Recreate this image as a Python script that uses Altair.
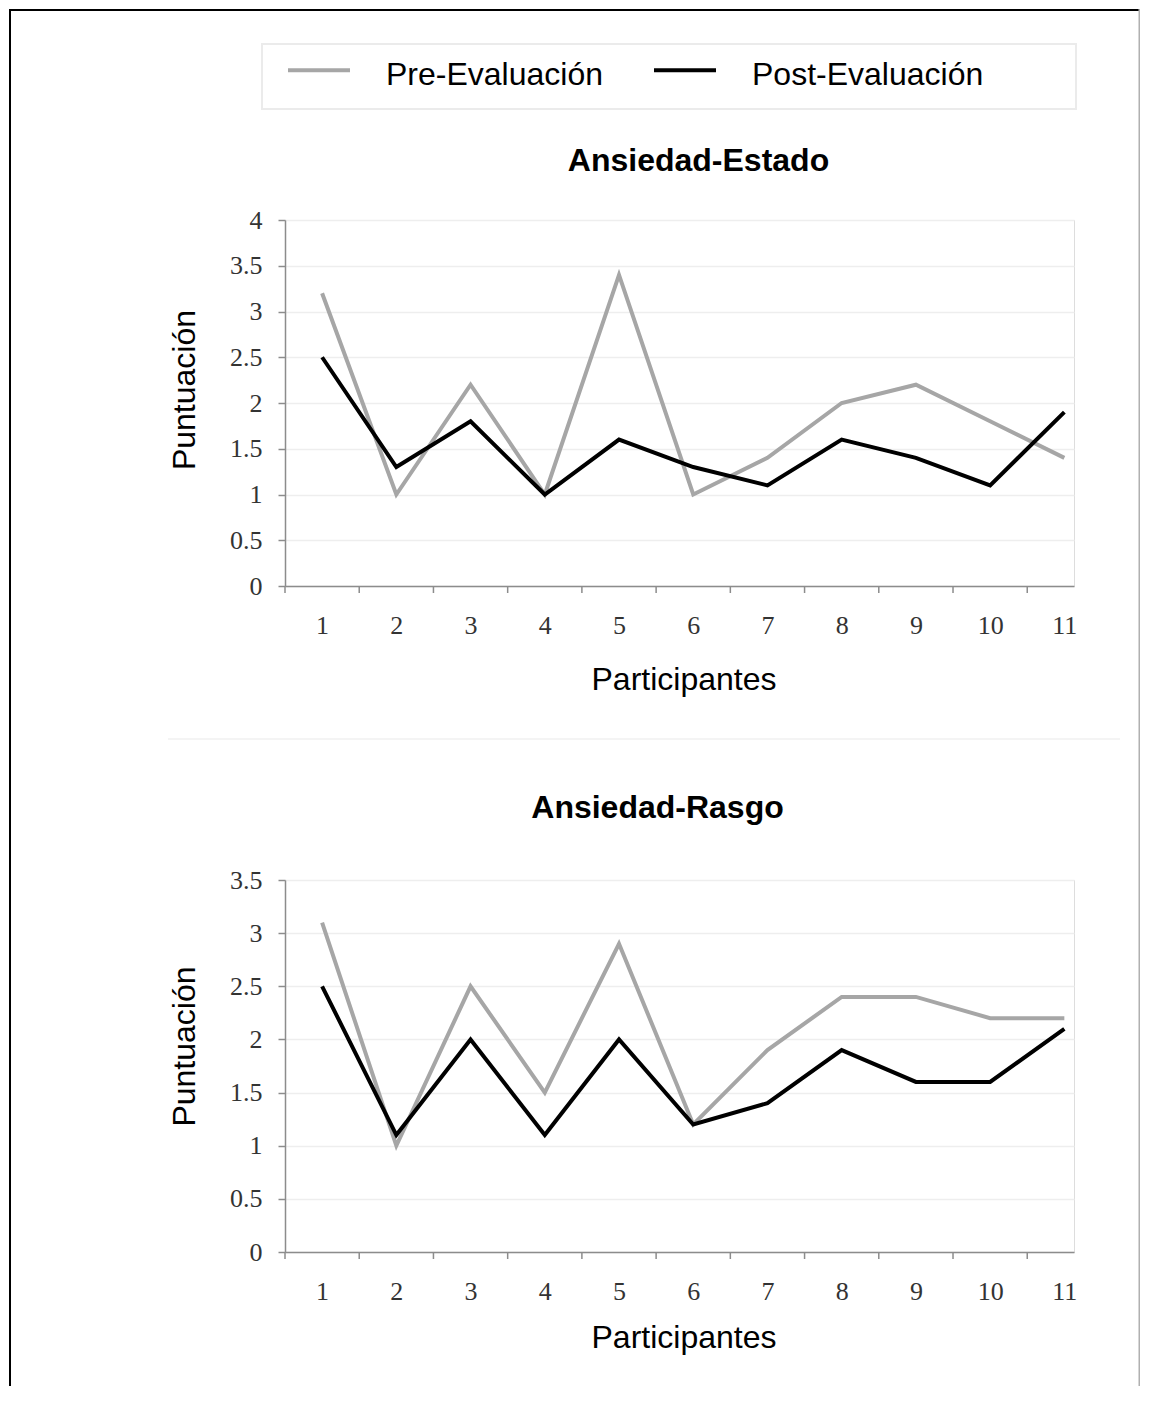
import altair as alt
import pandas as pd

# ---- data ----
participantes = [1, 2, 3, 4, 5, 6, 7, 8, 9, 10, 11]
estado_pre = [3.2, 1.0, 2.2, 1.0, 3.4, 1.0, 1.4, 2.0, 2.2, 1.8, 1.4]
estado_post = [2.5, 1.3, 1.8, 1.0, 1.6, 1.3, 1.1, 1.6, 1.4, 1.1, 1.9]
rasgo_pre = [3.1, 1.0, 2.5, 1.5, 2.9, 1.2, 1.9, 2.4, 2.4, 2.2, 2.2]
rasgo_post = [2.5, 1.1, 2.0, 1.1, 2.0, 1.2, 1.4, 1.9, 1.6, 1.6, 2.1]
series = ["Pre-Evaluación", "Post-Evaluación"]
colores = ["#a6a6a6", "#000000"]
limites_x = [0.5, 1.5, 2.5, 3.5, 4.5, 5.5, 6.5, 7.5, 8.5, 9.5, 10.5]
ticks_estado = [0, 0.5, 1, 1.5, 2, 2.5, 3, 3.5, 4]
ticks_rasgo = [0, 0.5, 1, 1.5, 2, 2.5, 3, 3.5]

W = 789
SANS = "Liberation Sans"
SERIF = "Liberation Serif"
AXIS_C = "#8c8c8c"


def long_df(pre, post):
    rows = []
    for p, a, b in zip(participantes, pre, post):
        rows.append({"Participante": p, "Serie": series[0], "Valor": a})
        rows.append({"Participante": p, "Serie": series[1], "Valor": b})
    return pd.DataFrame(rows)


color_enc = alt.Color(
    "Serie:N",
    scale=alt.Scale(domain=series, range=colores),
    legend=alt.Legend(
        orient="none", legendX=1, legendY=-178, direction="horizontal",
        title=None, symbolType="M-1,-0.15L1,-0.15", symbolSize=3844,
        symbolStrokeWidth=4,
        labelFont=SANS, labelFontSize=32, labelColor="black", labelOffset=34,
        columnPadding=28, gridAlign="all", padding=0, labelLimit=400,
    ),
)

x_scale = alt.Scale(domain=[0.5, 11.13], nice=False, zero=False)


def panel(pre, post, ymax, yticks, H, title, title_x, title_y,
          ytitle_y, xtitle_y, extras=None):
    df = long_df(pre, post)
    x_enc = alt.X(
        "Participante:Q",
        scale=x_scale,
        axis=alt.Axis(
            orient="bottom", values=participantes, ticks=False, tickSize=0,
            grid=False, domainColor=AXIS_C, domainWidth=1.5,
            labelFont=SERIF, labelFontSize=26, labelColor="#333333",
            labelBaseline="alphabetic", labelPadding=47, labelFlush=False,
            title="Participantes", titleFont=SANS, titleFontSize=32,
            titleFontWeight="normal", titleColor="black",
            titleX=W / 2 + 4, titleY=xtitle_y, titleBaseline="alphabetic",
            titleAlign="center",
        ),
    )
    # top axis only carries the panel title
    x_top = alt.X(
        "Participante:Q",
        scale=x_scale,
        axis=alt.Axis(
            orient="top", labels=False, ticks=False, domain=False, grid=False,
            title=title, titleFont=SANS, titleFontSize=32, titleFontWeight="bold",
            titleColor="black", titleX=title_x, titleY=title_y,
            titleBaseline="alphabetic", titleAlign="center",
        ),
    )
    y_enc = alt.Y(
        "Valor:Q",
        scale=alt.Scale(domain=[0, ymax], nice=False, zero=True),
        axis=alt.Axis(
            values=yticks, format="~g", grid=True, gridColor="#eeeeee",
            gridWidth=1.5, tickSize=7, tickColor=AXIS_C, tickWidth=1.5,
            domainColor=AXIS_C, domainWidth=1.5,
            labelFont=SERIF, labelFontSize=26, labelColor="#333333",
            labelPadding=16, labelFlush=False,
            title="Puntuación", titleFont=SANS, titleFontSize=32,
            titleFontWeight="normal", titleColor="black",
            titleX=-91, titleY=ytitle_y, titleBaseline="alphabetic",
            titleAlign="center",
        ),
    )
    base = alt.Chart(df)
    pre_line = base.transform_filter(alt.datum.Serie == series[0]).mark_line(
        strokeWidth=4, strokeJoin="miter").encode(x=x_enc, y=y_enc, color=color_enc)
    post_line = base.transform_filter(alt.datum.Serie == series[1]).mark_line(
        strokeWidth=4, strokeJoin="miter").encode(x=x_enc, y=y_enc, color=color_enc)
    lines = alt.layer(pre_line, post_line)
    ticks = alt.Chart(pd.DataFrame({"Participante": limites_x})).mark_rule(
        color=AXIS_C, strokeWidth=1.5).encode(
        x=x_top, y=alt.value(H), y2=alt.value(H + 7))
    layers = [lines, ticks]
    if extras:
        layers = extras + layers
    return alt.layer(*layers).resolve_axis(x="independent").properties(
        width=W, height=H)


# decorations (figure frame, legend box, separator) relative to panel 1
frame_top = alt.Chart().mark_rect(color="black").encode(
    x=alt.value(-276), x2=alt.value(855), y=alt.value(-211), y2=alt.value(-209))
frame_left = alt.Chart().mark_rect(color="black").encode(
    x=alt.value(-276), x2=alt.value(-274), y=alt.value(-211), y2=alt.value(1166))
frame_right = alt.Chart().mark_rect(color="#b0b0b0").encode(
    x=alt.value(853.5), x2=alt.value(855), y=alt.value(-211), y2=alt.value(1166))
legend_box = alt.Chart().mark_rect(fillOpacity=0, stroke="#ebebeb", strokeWidth=2).encode(
    x=alt.value(-23), x2=alt.value(791), y=alt.value(-176), y2=alt.value(-111))
separator = alt.Chart().mark_rule(color="#f0f0f0", strokeWidth=1.5).encode(
    x=alt.value(-117), x2=alt.value(835), y=alt.value(519))

p1 = panel(estado_pre, estado_post, 4, ticks_estado, 366, "Ansiedad-Estado",
           413, -50, 169.5, 103,
           extras=[frame_top, frame_left, frame_right, legend_box, separator])
p2 = panel(rasgo_pre, rasgo_post, 3.5, ticks_rasgo, 372, "Ansiedad-Rasgo",
           372, -63, 166, 95)

chart = alt.vconcat(p1, p2, spacing=294, bounds="flush").resolve_scale(
    y="independent", x="independent").properties(padding=0).configure_view(
    strokeWidth=0).configure(background="white")

chart.save("out.html", embed_options={"renderer": "svg", "actions": False})
